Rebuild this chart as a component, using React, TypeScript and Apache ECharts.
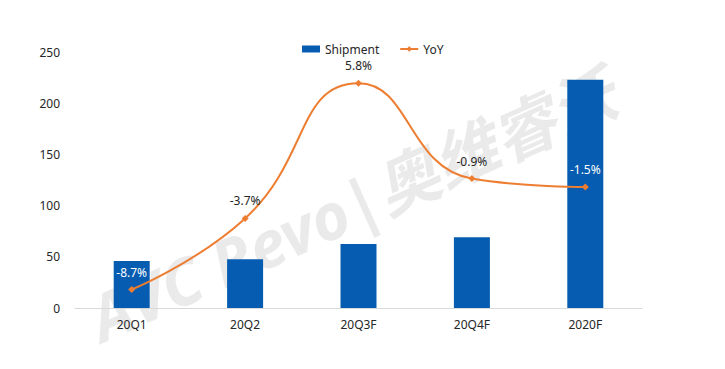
import React, { useEffect, useRef } from "react";
import * as echarts from "echarts";

const categories = ["20Q1", "20Q2", "20Q3F", "20Q4F", "2020F"];
const shipment = [46, 47.5, 62.5, 69, 223];
const yoy = [-8.7, -3.7, 5.8, -0.9, -1.5];
const yoyLabels = ["-8.7%", "-3.7%", "5.8%", "-0.9%", "-1.5%"];
const labelInsideBar = [true, false, false, false, true];

export default function App() {
  const ref = useRef<HTMLDivElement>(null);
  useEffect(() => {
    document.body.style.margin = "0";
    const chart = echarts.init(ref.current!, null, { renderer: "svg" });
    const font = "'Noto Sans', 'Noto Sans CJK SC', sans-serif";
    chart.setOption({
      animation: false,
      backgroundColor: "#ffffff",
      textStyle: { fontFamily: font },
      graphic: [
        {
          type: "text",
          x: 352,
          y: 205,
          rotation: 0.42,
          z: -1,
          style: {
            text: "AVC Revo|奥维睿沃",
            fontSize: 64,
            fontWeight: "bold",
            fontStyle: "italic",
            fontFamily: font,
            fill: "rgba(195,195,195,0.35)",
            align: "center",
            verticalAlign: "middle",
          },
        },
      ],
      legend: {
        top: 38,
        left: 297,
        itemGap: 20,
        itemWidth: 18,
        itemHeight: 7,
        textStyle: { fontSize: 12, color: "#262626", fontFamily: font },
        data: [
          { name: "Shipment", icon: "rect" },
          { name: "YoY" },
        ],
      },
      grid: { left: 75, right: 83, top: 52, bottom: 61 },
      xAxis: {
        type: "category",
        data: categories,
        axisLine: { lineStyle: { color: "#d9d9d9" } },
        axisTick: { show: false },
        axisLabel: { color: "#262626", fontSize: 12, margin: 10 },
      },
      yAxis: [
        {
          type: "value",
          min: 0,
          max: 250,
          interval: 50,
          axisLine: { show: false },
          axisTick: { show: false },
          splitLine: { show: false },
          axisLabel: { color: "#262626", fontSize: 12, margin: 15 },
        },
        {
          type: "value",
          min: -10,
          max: 8,
          show: false,
          splitLine: { show: false },
        },
      ],
      series: [
        {
          name: "Shipment",
          type: "bar",
          data: shipment,
          barWidth: 36,
          itemStyle: { color: "#055CB0" },
          z: 2,
        },
        {
          name: "YoY",
          type: "line",
          yAxisIndex: 1,
          data: yoy.map((v, i) => ({
            value: v,
            label: {
              color: labelInsideBar[i] ? "#ffffff" : "#262626",
            },
          })),
          smooth: 0.5,
          symbol: "diamond",
          symbolSize: 7,
          lineStyle: { color: "#ED7D31", width: 2 },
          itemStyle: { color: "#ED7D31" },
          label: {
            show: true,
            position: "top",
            distance: 8,
            fontSize: 12,
            formatter: (p: any) => yoyLabels[p.dataIndex],
          },
          z: 3,
        },
      ],
    });
    return () => chart.dispose();
  }, []);
  return <div ref={ref} style={{ width: 725, height: 369 }} />;
}
